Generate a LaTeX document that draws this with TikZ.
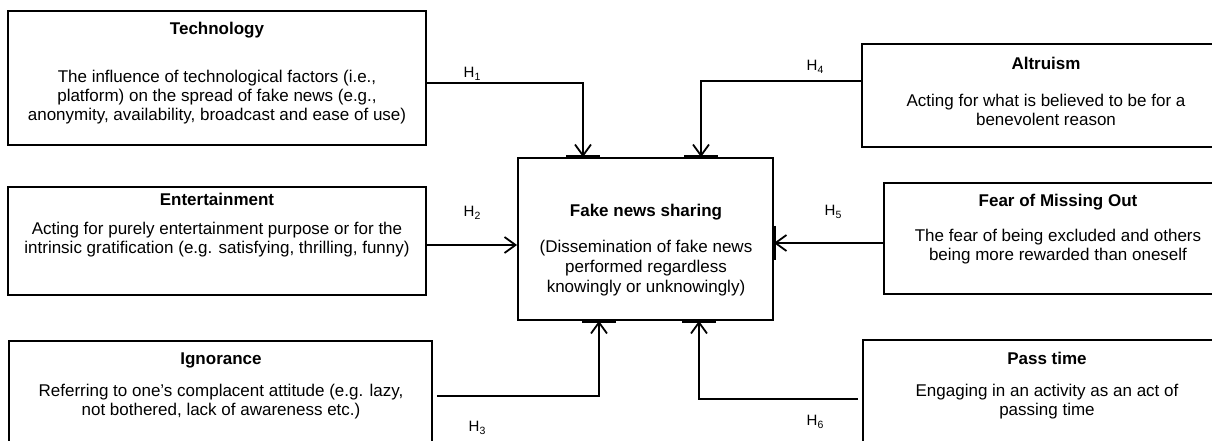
\documentclass[tikz,border=0pt]{standalone}
\usepackage{fontspec}
\setmainfont{Liberation Sans}
\usetikzlibrary{arrows.meta}
\tikzset{
  box/.style={draw=black, line width=1.9bp, inner sep=0pt, fill=none},
  ttl/.style={font=\fontsize{17bp}{19.5bp}\selectfont\bfseries, inner sep=0pt},
  bodytxt/.style={font=\fontsize{17bp}{18.8bp}\selectfont, align=center, inner sep=0pt},
  midtxt/.style={font=\fontsize{17bp}{20bp}\selectfont, align=center, inner sep=0pt},
  hlab/.style={font=\fontsize{15bp}{17bp}\selectfont, inner sep=0pt},
  conn/.style={line width=1.8bp, draw=black},
  arr/.style={conn, -{Straight Barb[length=11bp, width=16bp, line width=1.8bp]}},
  edgemark/.style={line width=3.6bp, draw=black},
}
\newcommand{\hsub}[1]{H{\fontsize{10.5bp}{11bp}\selectfont\raisebox{-2.5bp}{#1}}}
\begin{document}
\begin{tikzpicture}[x=1bp, y=-1bp]
\useasboundingbox (0,0) rectangle (1212,441);
\clip (0,0) rectangle (1212,441);
\fill[white] (0,0) rectangle (1212,441);

% boxes
\node[box, minimum width=418bp, minimum height=134bp] (tech) at (217,78) {};
\node[box, minimum width=418bp, minimum height=108bp] (ent)  at (217,241) {};
\node[box, minimum width=423bp, minimum height=140bp] (ign)  at (220.5,411) {};
\node[box, minimum width=366bp, minimum height=103bp] (alt)  at (1045,95.5) {};
\node[box, minimum width=344bp, minimum height=111bp] (fomo) at (1056,238.5) {};
\node[box, minimum width=365bp, minimum height=140bp] (pass) at (1045.5,410) {};
\node[box, minimum width=255bp, minimum height=162bp] (fake) at (645.5,239) {};

% texts
\node[ttl] (techT) at (217,30) {Technology};
\node[bodytxt] (techB) at (217,97) {The influence of technological factors (i.e.,\\platform) on the spread of fake news (e.g.,\\anonymity, availability, broadcast and ease of use)};
\node[ttl] (entT) at (217,199) {Entertainment};
\node[bodytxt] (entB) at (217,240) {Acting for purely entertainment purpose or for the\\intrinsic gratification (e.g. satisfying, thrilling, funny)};
\node[ttl] (ignT) at (221,360) {Ignorance};
\node[bodytxt] (ignB) at (221,402) {Referring to one’s complacent attitude (e.g. lazy,\\not bothered, lack of awareness etc.)};
\node[ttl] (altT) at (1046,63) {Altruism};
\node[bodytxt] (altB) at (1046,110) {Acting for what is believed to be for a\\benevolent reason};
\node[ttl] (fomoT) at (1058,202) {Fear of Missing Out};
\node[bodytxt] (fomoB) at (1058,247) {The fear of being excluded and others\\being more rewarded than oneself};
\node[ttl] (passT) at (1047,358) {Pass time};
\node[bodytxt] (passB) at (1047,402) {Engaging in an activity as an act of\\passing time};
\node[ttl] (fakeT) at (646,212) {Fake news sharing};
\node[midtxt] (fakeB) at (646,268) {(Dissemination of fake news\\performed regardless\\knowingly or unknowingly)};

% hypothesis labels
\node[hlab] (h1) at (472,74) {\hsub{1}};
\node[hlab] (h2) at (472,213) {\hsub{2}};
\node[hlab] (h3) at (477,428) {\hsub{3}};
\node[hlab] (h4) at (815,67) {\hsub{4}};
\node[hlab] (h5) at (833,212) {\hsub{5}};
\node[hlab] (h6) at (815,422) {\hsub{6}};

% connector bends
\coordinate (c1) at (583,83);
\coordinate (c2) at (0,245);
\coordinate (c3) at (599,396);
\coordinate (c4) at (701,81);
\coordinate (c5) at (0,243);
\coordinate (c6) at (699,399);

% thick marks on the target box border
\draw[edgemark] ([xshift=-17bp]fake.north -| c1) -- ([xshift=17bp]fake.north -| c1);
\draw[edgemark] ([xshift=-17bp]fake.north -| c4) -- ([xshift=17bp]fake.north -| c4);
\draw[edgemark] ([xshift=-17bp]fake.south -| c3) -- ([xshift=17bp]fake.south -| c3);
\draw[edgemark] ([xshift=-17bp]fake.south -| c6) -- ([xshift=17bp]fake.south -| c6);
\draw[edgemark] ([yshift=17bp]fake.east |- c5) -- ([yshift=-17bp]fake.east |- c5);

% connectors
\draw[arr] (tech.east |- c1) -- (c1) -- (fake.north -| c1);
\draw[arr] (ent.east |- c2) -- (fake.west |- c2);
\draw[arr] ([xshift=4bp]ign.east |- c3) -- (c3) -- (fake.south -| c3);
\draw[arr] (alt.west |- c4) -- (c4) -- (fake.north -| c4);
\draw[arr] (fomo.west |- c5) -- (fake.east |- c5);
\draw[arr] ([xshift=-4bp]pass.west |- c6) -- (c6) -- (fake.south -| c6);
\end{tikzpicture}
\end{document}
